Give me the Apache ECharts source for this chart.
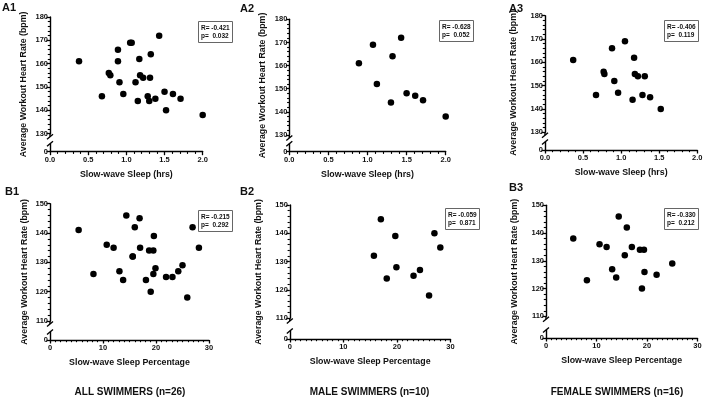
<!DOCTYPE html>
<html>
<head>
<meta charset="utf-8">
<title>Slow-wave sleep vs workout heart rate</title>
<script src="https://cdn.jsdelivr.net/npm/echarts@6/dist/echarts.min.js"></script>
<style>
html,body{margin:0;padding:0;background:#fff;}
#chart{width:709px;height:400px;}
</style>
</head>
<body>
<div id="chart"></div>
<script>
// values
var a1Sleep = [0.38,0.68,0.77,0.79,0.89,0.89,0.91,0.96,1.05,1.07,1.12,1.15,1.17,1.18,1.22,1.28,1.30,1.31,1.32,1.38,1.43,1.50,1.52,1.61,1.71,2.00];
var a1Hr    = [161,146,156,155,166,161,152,147,169,169,152,144,162,155,154,146,144,154,164,145,172,148,140,147,145,138];
var a2Sleep = [0.89,1.07,1.12,1.30,1.32,1.43,1.50,1.61,1.71,2.00];
var a2Hr    = [161,169,152,144,164,172,148,147,145,138];
var a3Sleep = [0.37,0.67,0.77,0.78,0.88,0.91,0.96,1.05,1.15,1.17,1.18,1.22,1.28,1.31,1.38,1.52];
var a3Hr    = [161,146,156,155,166,152,147,169,144,162,155,154,146,154,145,140];

var b1Pct = [5.4,8.2,10.7,12.0,13.1,13.8,14.4,15.6,15.6,16.0,16.9,17.0,18.1,18.7,19.0,19.5,19.5,19.6,19.9,21.9,23.1,24.2,25.0,25.9,26.9,28.1];
var b1Hr  = [141,126,136,135,127,124,146,132,132,142,145,135,124,134,120,134,126,139,128,125,125,127,129,118,142,135];
var b2Pct = [15.7,17.0,18.1,19.7,19.9,23.1,24.3,26.0,27.0,28.1];
var b2Hr  = [132,145,124,139,128,125,127,118,140,135];
var b3Pct = [5.4,8.1,10.6,12.0,13.1,13.9,14.4,15.6,16.0,17.0,18.6,19.0,19.4,19.5,21.9,25.0];
var b3Hr  = [138,123,136,135,127,124,146,132,142,135,134,120,134,126,125,129];

var statR = ['-0.421','-0.628','-0.406','-0.215','-0.059','-0.330'];
var statP = ['0.032','0.052','0.119','0.292','0.871','0.212'];
var panelNames = ['A1','A2','A3','B1','B2','B3'];
var groupNames = ['ALL SWIMMERS (n=26)','MALE SWIMMERS (n=10)','FEMALE SWIMMERS (n=16)'];

var FONT = '"Liberation Sans", Arial, sans-serif';
var INK = '#111';

var rows = {
    A: {yMin:130, yMax:180, xMax:2, xInt:0.5, xMinor:5, xName:'Slow-wave Sleep (hrs)', fmt:function(v){return v.toFixed(1);}},
    B: {yMin:110, yMax:150, xMax:30, xInt:10, xMinor:10, xName:'Slow-wave Sleep Percentage', fmt:function(v){return String(v);}}
};

// layout of each panel, px
var panels = [
    {row:'A', xs:a1Sleep, ys:a1Hr, left:50,    width:152.7, top:17,    low:133.7, axis:151.7, tOff:26,   lab:[2,2],    box:[198,21]},
    {row:'A', xs:a2Sleep, ys:a2Hr, left:289.3, width:156.4, top:19.3,  low:135,   axis:151.7, tOff:27,   lab:[240,3],  box:[439,20]},
    {row:'A', xs:a3Sleep, ys:a3Hr, left:545,   width:152.3, top:15.7,  low:132.3, axis:150,   tOff:31,   lab:[509,3],  box:[664,20]},
    {row:'B', xs:b1Pct,   ys:b1Hr, left:50,    width:159,   top:203.7, low:321,   axis:340,   tOff:25.5, lab:[5,186],  box:[198,210]},
    {row:'B', xs:b2Pct,   ys:b2Hr, left:289.8, width:160.7, top:205,   low:318,   axis:339,   tOff:31,   lab:[240,186], box:[445,208]},
    {row:'B', xs:b3Pct,   ys:b3Hr, left:546,   width:151.5, top:205.3, low:316.3, axis:338,   tOff:31,   lab:[509,182], box:[664,208]}
];
var groupX = [130, 369.5, 617];

var lineSt = {color:'#000', width:1.4};
var tickSt = {color:'#000', width:1.3};
var labSt = {fontSize:7.5, fontWeight:'bold', color:INK, fontFamily:FONT};

var grid = [], xAxis = [], yAxis = [], series = [], title = [];

panels.forEach(function(p, i){
    var r = rows[p.row];
    var up = 2*i, dn = 2*i+1;
    grid.push({left:p.left, top:p.top, width:p.width, height:p.low - p.top});
    grid.push({left:p.left, top:p.axis - 8, width:p.width, height:8});

    xAxis.push({gridIndex:up, type:'value', min:0, max:r.xMax, interval:r.xInt, show:false});
    xAxis.push({
        gridIndex:dn, type:'value', min:0, max:r.xMax, interval:r.xInt,
        axisLine:{show:true, onZero:false, lineStyle:lineSt},
        axisTick:{show:true, length:3.5, lineStyle:tickSt},
        minorTick:{show:true, splitNumber:r.xMinor, length:2.2, lineStyle:{color:'#000', width:1.1}},
        splitLine:{show:false},
        axisLabel:Object.assign({margin:4, formatter:r.fmt}, labSt),
        name:r.xName, nameLocation:'middle', nameGap:18,
        nameTextStyle:{fontSize:8.8, fontWeight:'bold', color:INK, fontFamily:FONT}
    });

    yAxis.push({
        gridIndex:up, type:'value', min:r.yMin, max:r.yMax, interval:10,
        axisLine:{show:true, onZero:false, lineStyle:lineSt},
        axisTick:{show:true, length:3.5, lineStyle:tickSt},
        minorTick:{show:true, splitNumber:5, length:2.2, lineStyle:{color:'#000', width:1.1}},
        splitLine:{show:false},
        axisLabel:Object.assign({margin:2}, labSt)
    });
    yAxis.push({
        gridIndex:dn, type:'value', min:0, max:1,
        axisLine:{show:true, onZero:false, lineStyle:lineSt},
        axisTick:{show:true, length:3.5, customValues:[0], lineStyle:tickSt},
        splitLine:{show:false},
        axisLabel:Object.assign({margin:2, customValues:[0]}, labSt)
    });

    series.push({
        type:'scatter', xAxisIndex:up, yAxisIndex:up,
        data:p.xs.map(function(x, k){ return [x, p.ys[k]]; }),
        symbol:'circle', symbolSize:6.5,
        itemStyle:{color:'#000', opacity:1}, clip:false
    });

    title.push({
        text:'R= ' + statR[i] + '\np=  ' + statP[i],
        left:p.box[0], top:p.box[1], padding:[3,3,3,3],
        borderColor:'#666', borderWidth:1,
        textStyle:{fontSize:6.5, fontWeight:'bold', color:INK, fontFamily:FONT, lineHeight:8}
    });
    title.push({
        text:panelNames[i], left:p.lab[0], top:p.lab[1], padding:0,
        textStyle:{fontSize:11, fontWeight:'bold', color:INK, fontFamily:FONT}
    });
});

var chart = echarts.init(document.getElementById('chart'), null, {renderer:'canvas'});
chart.setOption({
    animation:false,
    backgroundColor:'#fff',
    grid:grid, xAxis:xAxis, yAxis:yAxis, series:series, title:title
});

// axis breaks, rotated y titles, group captions
var graphic = [];
panels.forEach(function(p, i){
    var r = rows[p.row];
    var lowPt = chart.convertToPixel({gridIndex:2*i}, [0, r.yMin]);
    var topPt = chart.convertToPixel({gridIndex:2*i}, [0, r.yMax]);
    var zeroPt = chart.convertToPixel({gridIndex:2*i+1}, [0, 0]);
    var ax = lowPt[0];
    var s1 = lowPt[1] + 3, s2 = zeroPt[1] - 8;
    graphic.push({type:'line', shape:{x1:ax, y1:lowPt[1], x2:ax, y2:s1}, style:{stroke:'#000', lineWidth:1.4}});
    graphic.push({type:'line', shape:{x1:ax-3, y1:s1+2.5, x2:ax+3, y2:s1-2.5}, style:{stroke:'#000', lineWidth:1.4}});
    graphic.push({type:'line', shape:{x1:ax-3, y1:s2+2.5, x2:ax+3, y2:s2-2.5}, style:{stroke:'#000', lineWidth:1.4}});
    graphic.push({
        type:'text', x:ax - p.tOff, y:(topPt[1] + zeroPt[1]) / 2, rotation:Math.PI/2,
        style:{text:'Average Workout Heart Rate (bpm)', fontSize:8.8, fontWeight:'bold', fontFamily:FONT,
               fill:INK, align:'center', verticalAlign:'middle'}
    });
});
groupNames.forEach(function(g, k){
    graphic.push({
        type:'text', x:groupX[k], y:392,
        style:{text:g, fontSize:10, fontWeight:'bold', fontFamily:FONT, fill:INK, align:'center', verticalAlign:'middle'}
    });
});
chart.setOption({graphic:graphic});
</script>
</body>
</html>
